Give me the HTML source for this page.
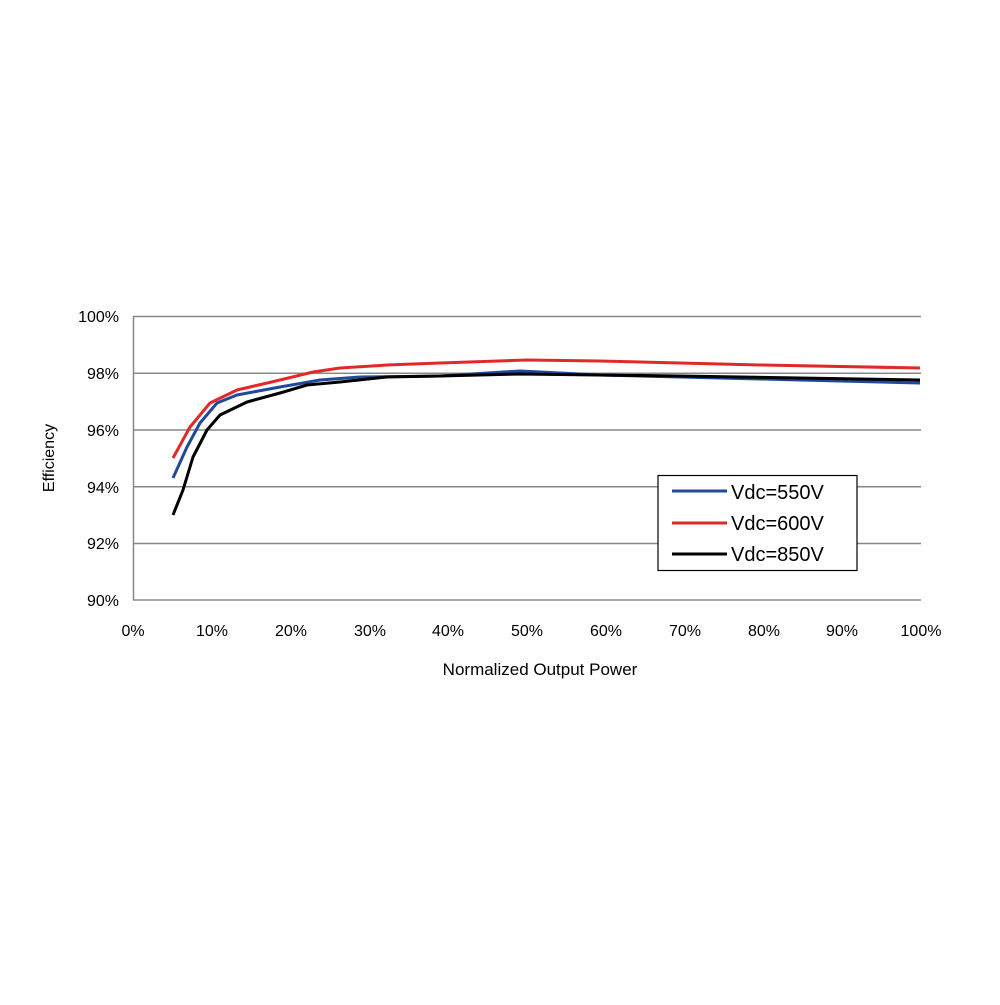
<!DOCTYPE html>
<html><head><style>body{margin:0;background:#fff}svg text{font-family:"Liberation Sans",sans-serif;fill:#000}</style></head><body>
<svg width="1000" height="1000" viewBox="0 0 1000 1000" xmlns="http://www.w3.org/2000/svg">
<rect width="1000" height="1000" fill="#fff"/>
<g stroke="#888" stroke-width="1.5">
<line x1="133" y1="316.5" x2="921" y2="316.5"/>
<line x1="133" y1="373.3" x2="921" y2="373.3"/>
<line x1="133" y1="430" x2="921" y2="430"/>
<line x1="133" y1="486.8" x2="921" y2="486.8"/>
<line x1="133" y1="543.5" x2="921" y2="543.5"/>
<line x1="133" y1="600" x2="921" y2="600"/>
<line x1="133.5" y1="316" x2="133.5" y2="600"/>
</g>
<g font-size="16" text-anchor="end">
<text x="119" y="322">100%</text><text x="119" y="379">98%</text><text x="119" y="436">96%</text><text x="119" y="493">94%</text><text x="119" y="549">92%</text><text x="119" y="606">90%</text>
</g>
<g font-size="16" text-anchor="middle">
<text x="133" y="636">0%</text><text x="212" y="636">10%</text><text x="291" y="636">20%</text><text x="370" y="636">30%</text><text x="448" y="636">40%</text><text x="527" y="636">50%</text><text x="606" y="636">60%</text><text x="685" y="636">70%</text><text x="764" y="636">80%</text><text x="842" y="636">90%</text><text x="921" y="636">100%</text>
</g>
<text x="540" y="675" font-size="17" text-anchor="middle">Normalized Output Power</text>
<text transform="translate(54,458) rotate(-90)" font-size="16" text-anchor="middle">Efficiency</text>
<g fill="none" stroke-width="3" stroke-linejoin="round">
<path stroke="#1f4a9a" d="M173,478 L187,447 L200,423 L217,403 L237,395 L280,387 L320,380 L360,377 L440,376 L520,371 L600,375 L680,377 L760,379 L920,383"/>
<path stroke="#e02a2a" d="M173,458 L190,427 L210,403 L237,390 L280,380 L313,372 L340,368 L387,365 L440,363 L527,360 L600,361 L760,365 L920,368"/>
<path stroke="#000" d="M173,515 L183,490 L193,457 L207,430 L220,415 L247,402 L280,393 L307,385 L340,382 L387,377 L440,376 L520,374 L680,376 L920,380"/>
</g>
<rect x="658" y="475.5" width="199" height="95" fill="#fff" stroke="#000" stroke-width="1.2"/>
<g stroke-width="3">
<line x1="672" y1="491" x2="727" y2="491" stroke="#1f4a9a"/>
<line x1="672" y1="523" x2="727" y2="523" stroke="#e02a2a"/>
<line x1="672" y1="554" x2="727" y2="554" stroke="#000"/>
</g>
<g font-size="20">
<text x="731" y="499">Vdc=550V</text><text x="731" y="530">Vdc=600V</text><text x="731" y="561">Vdc=850V</text>
</g>
</svg>
</body></html>
